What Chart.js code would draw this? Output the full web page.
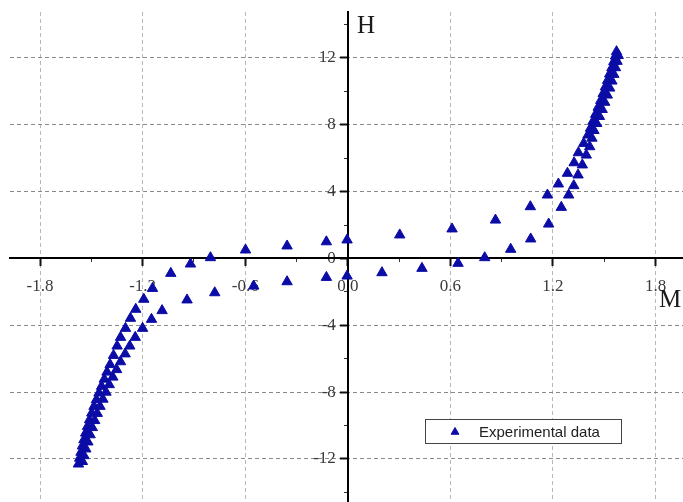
<!DOCTYPE html>
<html>
<head>
<meta charset="utf-8">
<script src="https://cdn.jsdelivr.net/npm/chart.js@4.4.1/dist/chart.umd.min.js"></script>
<style>
  html, body { margin: 0; padding: 0; background: #fff; }
  #chart { display: block; }
</style>
</head>
<body>
<canvas id="chart" width="683" height="502"></canvas>
<script>
// ascending branch (bottom-left -> top-right)
const mUp = [-1.575, -1.568, -1.560, -1.552, -1.543, -1.533, -1.522, -1.510, -1.497, -1.484,
  -1.470, -1.455, -1.440, -1.424, -1.408, -1.390, -1.370, -1.349, -1.329, -1.300,
  -1.271, -1.240, -1.193, -1.142, -1.035, -0.920, -0.803, -0.598, -0.355, -0.125,
  -0.004, 0.304, 0.610, 0.864, 1.068, 1.168, 1.232, 1.285, 1.324, 1.349,
  1.380, 1.405, 1.420, 1.435, 1.450, 1.465, 1.480, 1.494, 1.507, 1.520,
  1.532, 1.545, 1.556, 1.566, 1.572];
const hUp = [-12.30, -11.95, -11.60, -11.22, -10.85, -10.45, -10.05, -9.65, -9.25, -8.85,
  -8.45, -8.05, -7.65, -7.22, -6.80, -6.35, -5.80, -5.24, -4.72, -4.18,
  -3.58, -3.04, -2.44, -1.79, -0.89, -0.33, 0.05, 0.51, 0.75, 1.00,
  1.11, 1.41, 1.77, 2.30, 3.10, 3.80, 4.46, 5.10, 5.73, 6.33,
  6.89, 7.39, 7.80, 8.22, 8.63, 9.05, 9.46, 9.87, 10.27, 10.66,
  11.04, 11.42, 11.78, 12.12, 12.38];

// descending branch (top-right -> bottom-left)
const mDown = [1.582, 1.575, 1.566, 1.556, 1.545, 1.532, 1.518, 1.503, 1.488, 1.472,
  1.456, 1.440, 1.428, 1.415, 1.395, 1.372, 1.347, 1.322, 1.292, 1.249,
  1.175, 1.070, 0.953, 0.801, 0.645, 0.434, 0.200, -0.004, -0.125, -0.355,
  -0.550, -0.778, -0.940, -1.086, -1.148, -1.200, -1.243, -1.275, -1.302, -1.329,
  -1.352, -1.374, -1.395, -1.414, -1.432, -1.449, -1.465, -1.480, -1.494, -1.507,
  -1.520, -1.532, -1.543, -1.552];
const hDown = [12.15, 11.80, 11.42, 11.02, 10.62, 10.20, 9.78, 9.35, 8.92, 8.50,
  8.08, 7.66, 7.20, 6.69, 6.19, 5.60, 5.00, 4.36, 3.80, 3.06,
  2.06, 1.17, 0.55, 0.05, -0.29, -0.59, -0.85, -1.05, -1.13, -1.39,
  -1.65, -2.05, -2.48, -3.12, -3.64, -4.18, -4.72, -5.24, -5.71, -6.18,
  -6.65, -7.10, -7.55, -8.00, -8.42, -8.85, -9.27, -9.70, -10.12, -10.55,
  -10.98, -11.40, -11.80, -12.15];

const xTicks = [-1.8, -1.2, -0.6, 0, 0.6, 1.2, 1.8];
const xMinorTicks = [-1.5, -0.9, -0.3, 0.3, 0.9, 1.5];
const yTicks = [-12, -8, -4, 0, 4, 8, 12];
const yMinorTicks = [-14, -10, -6, -2, 2, 6, 10, 14];
const xGridLines = [-1.8, -1.2, -0.6, 0.6, 1.2, 1.8];
const yGridLines = [-12, -8, -4, 4, 8, 12];

const seriesLabel = "Experimental data";
const xTitle = "M";
const yTitle = "H";

const X_MIN = -1.9755, X_MAX = 1.9608;
const Y_MIN = -14.574, Y_MAX = 14.753;
const Y_LABEL_SHIFT = -0.07; // y tick labels sit a little left of the axis
const BLUE = "#0b0ba6";

const points = mUp.map((m, i) => ({ x: m, y: hUp[i] }))
  .concat(mDown.map((m, i) => ({ x: m, y: hDown[i] })));

const setTicks = list => scale => { scale.ticks = list.map(v => ({ value: v })); };
// axes are drawn inside the plot, so they must not eat any layout space
const noSpace = s => {
  if (s.isHorizontal()) s.height = 0; else s.width = 0;
  s.paddingLeft = s.paddingRight = s.paddingTop = s.paddingBottom = 0;
};
const tickFont = { family: "'Liberation Serif', serif", size: 17 };

// axis titles and the boxed legend
const decorations = {
  id: "decorations",
  afterDraw(chart) {
    const ctx = chart.ctx;
    ctx.save();
    ctx.fillStyle = "#1a1a1a";
    ctx.font = "25px 'Liberation Serif', serif";
    ctx.textBaseline = "alphabetic";
    ctx.textAlign = "left";
    ctx.fillText(yTitle, 357, 33);
    ctx.fillText(xTitle, 659, 307);

    ctx.fillStyle = "#fff";
    ctx.fillRect(425.5, 419.5, 196, 24);
    ctx.strokeStyle = "#444";
    ctx.lineWidth = 1;
    ctx.strokeRect(425.5, 419.5, 196, 24);
    ctx.fillStyle = BLUE;
    ctx.strokeStyle = BLUE;
    Chart.helpers.drawPoint(ctx, { pointStyle: "triangle", radius: 4.5, borderWidth: 1, rotation: 0 }, 455, 432);
    ctx.fillStyle = "#222";
    ctx.font = "15px 'Liberation Sans', Arial, sans-serif";
    ctx.fillText(seriesLabel, 479, 437);
    ctx.restore();
  }
};

new Chart(document.getElementById("chart"), {
  type: "scatter",
  data: {
    datasets: [{
      label: seriesLabel,
      data: points,
      pointStyle: "triangle",
      pointRadius: 6,
      pointBackgroundColor: BLUE,
      pointBorderColor: BLUE,
      pointBorderWidth: 1
    }]
  },
  options: {
    responsive: false,
    animation: false,
    layout: { autoPadding: false, padding: { left: 10, top: 12, right: 0, bottom: 0 } },
    plugins: { legend: { display: false }, tooltip: { enabled: false } },
    scales: {
      xg: {
        type: "linear", axis: "x", position: "bottom", min: X_MIN, max: X_MAX,
        afterBuildTicks: setTicks(xGridLines), afterFit: noSpace,
        ticks: { display: false },
        grid: { color: "#b8b8b8", lineWidth: 1, drawTicks: false },
        border: { display: false, dash: [4, 3] }
      },
      yg: {
        type: "linear", axis: "y", position: "left", min: Y_MIN, max: Y_MAX,
        afterBuildTicks: setTicks(yGridLines), afterFit: noSpace,
        ticks: { display: false },
        grid: { color: "#8a8a8a", lineWidth: 1, drawTicks: false },
        border: { display: false, dash: [4, 3] }
      },
      xm: {
        type: "linear", axis: "x", position: { y: 0 }, min: X_MIN, max: X_MAX,
        afterBuildTicks: setTicks(xMinorTicks), afterFit: noSpace,
        ticks: { display: false },
        grid: { drawOnChartArea: false, tickLength: 4, tickColor: "#333", tickWidth: 1 },
        border: { display: false }
      },
      ym: {
        type: "linear", axis: "y", position: { x: 0 }, min: Y_MIN, max: Y_MAX,
        afterBuildTicks: setTicks(yMinorTicks), afterFit: noSpace,
        ticks: { display: false },
        grid: { drawOnChartArea: false, tickLength: 4, tickColor: "#333", tickWidth: 1 },
        border: { display: false }
      },
      yl: {
        type: "linear", axis: "y", position: { x: Y_LABEL_SHIFT }, min: Y_MIN, max: Y_MAX,
        afterBuildTicks: setTicks(yTicks), afterFit: noSpace,
        ticks: {
          autoSkip: false, color: "#3a3a3a", font: tickFont,
          callback: v => String(v)
        },
        grid: { display: false },
        border: { display: false }
      },
      x: {
        type: "linear", position: { y: 0 }, min: X_MIN, max: X_MAX,
        afterBuildTicks: setTicks(xTicks), afterFit: noSpace,
        ticks: {
          autoSkip: false, maxRotation: 0, padding: 11,
          color: "#3a3a3a", font: tickFont,
          callback: v => v.toFixed(1)
        },
        grid: { drawOnChartArea: false, tickLength: 7, tickColor: "#111", tickWidth: 2 },
        border: { color: "#000", width: 2 }
      },
      y: {
        type: "linear", position: { x: 0 }, min: Y_MIN, max: Y_MAX,
        afterBuildTicks: setTicks(yTicks), afterFit: noSpace,
        ticks: { display: false },
        grid: { drawOnChartArea: false, tickLength: 7, tickColor: "#111", tickWidth: 2 },
        border: { color: "#000", width: 2 }
      }
    }
  },
  plugins: [decorations]
});
</script>
</body>
</html>
